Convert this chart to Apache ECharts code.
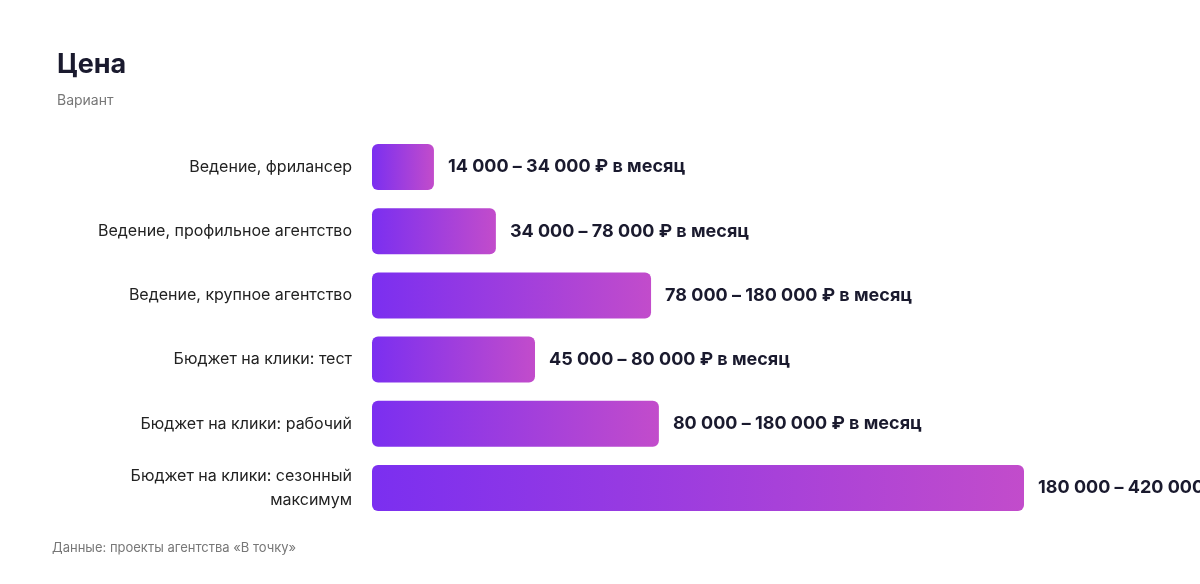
<!DOCTYPE html>
<html><head><meta charset="utf-8">
<script src="https://cdn.jsdelivr.net/npm/echarts@6/dist/echarts.min.js"></script>
<style>html,body{margin:0;padding:0;background:#fff}#c{width:1200px;height:584px}</style>
</head><body><div id="c"></div>
<script>
const categories = ["Ведение, фрилансер","Ведение, профильное агентство","Ведение, крупное агентство","Бюджет на клики: тест","Бюджет на клики: рабочий","Бюджет на клики: сезонный\nмаксимум"];
const values = [28500, 57000, 128400, 75000, 132000, 300000];
const labels = ["14 000 – 34 000 ₽ в месяц","34 000 – 78 000 ₽ в месяц","78 000 – 180 000 ₽ в месяц","45 000 – 80 000 ₽ в месяц","80 000 – 180 000 ₽ в месяц","180 000 – 420 000 ₽ в месяц"];
const chart = echarts.init(document.getElementById('c'));
const F = "Inter, 'Noto Sans', sans-serif";
chart.setOption({
  animation:false,
  title:{text:"Цена",subtext:"Вариант",left:52,top:46,itemGap:16,
    textStyle:{fontFamily:F,fontSize:27,fontWeight:'bold',color:'#1a1a2e'},
    subtextStyle:{fontFamily:F,fontSize:14,color:'#777'}},
  graphic:[{type:'text',left:52,top:542,style:{text:"Данные: проекты агентства «В точку»",font:"13px "+F,fill:'#777'}}],
  grid:{left:372,right:28,top:135,bottom:64},
  xAxis:{type:'value',min:0,max:368098,show:false},
  yAxis:{type:'category',inverse:true,data:categories,axisLine:{show:false},axisTick:{show:false},
    axisLabel:{fontFamily:F,fontSize:16,color:'#222',margin:20,lineHeight:24,align:'right'}},
  series:[{type:'bar',barWidth:46,data:values,
    itemStyle:{borderRadius:6,color:new echarts.graphic.LinearGradient(0,0,1,0,[{offset:0,color:'#7b2ff0'},{offset:1,color:'#c24ccb'}])},
    label:{show:true,position:'right',distance:14,fontFamily:F,fontSize:18,fontWeight:'bold',color:'#1a1a2e',
      formatter:p=>labels[p.dataIndex]}}]
});
</script></body></html>
